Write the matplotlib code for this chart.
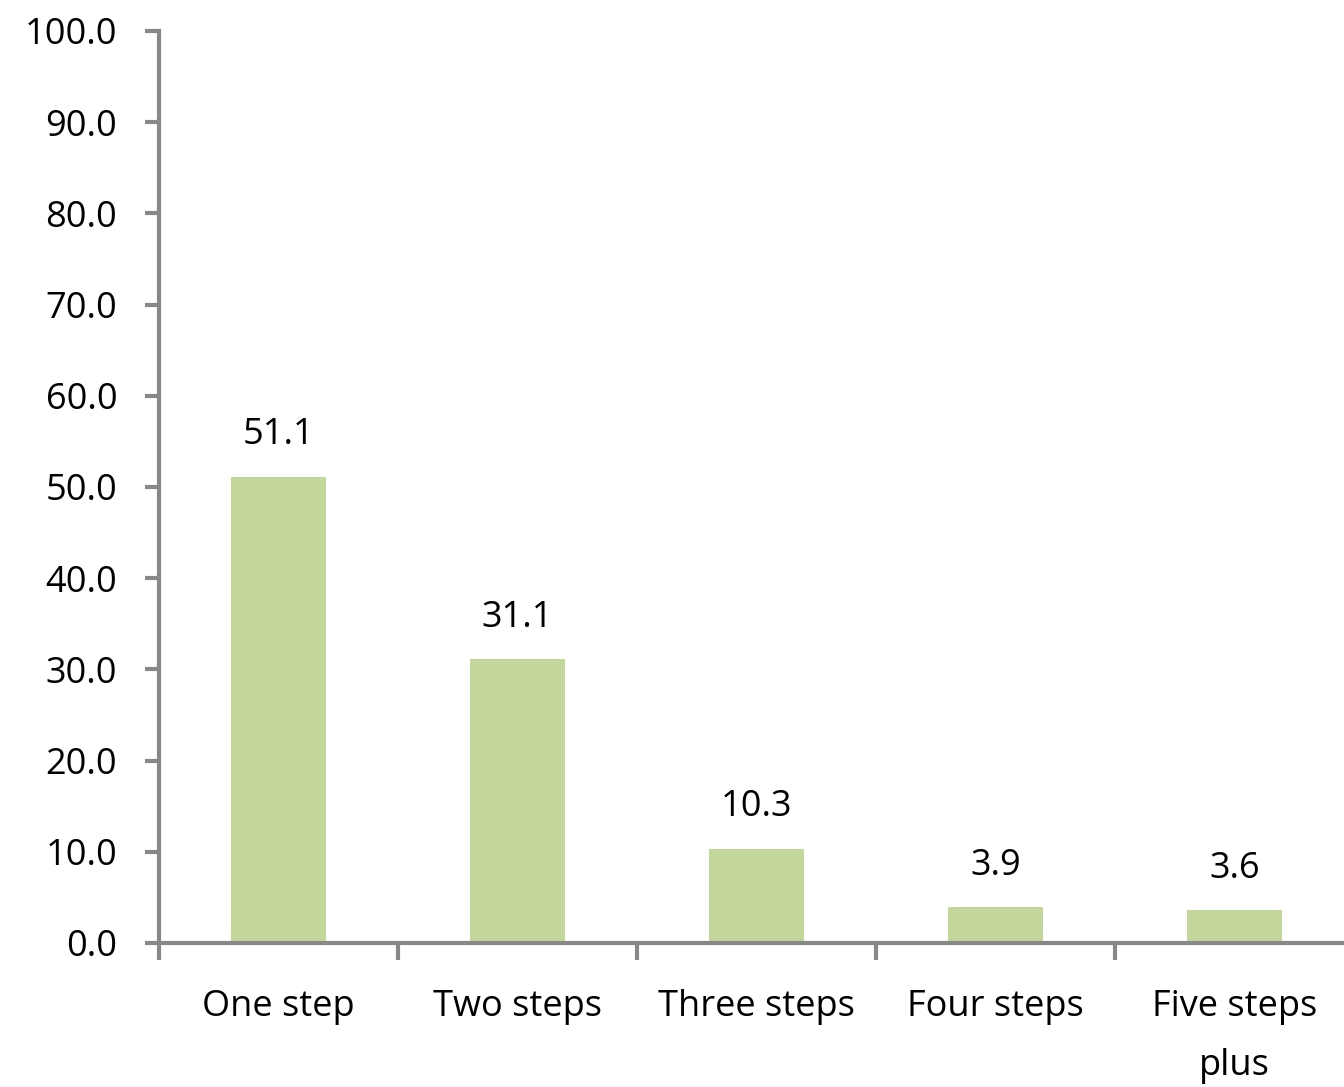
import matplotlib
matplotlib.use("Agg")
import matplotlib.pyplot as plt
import numpy as np

categories = ["One step", "Two steps", "Three steps", "Four steps", "Five steps\nplus"]
values = [51.1, 31.1, 10.3, 3.9, 3.6]
yticks = [0, 10, 20, 30, 40, 50, 60, 70, 80, 90, 100]

plt.rcParams['font.family'] = ['Open Sans', 'DejaVu Sans']

fig = plt.figure(figsize=(13.44, 10.87), dpi=100)
ax = fig.add_axes([159/1344, (1087-943)/1087, (1354-159)/1344, (943-31)/1087])

x = np.arange(len(categories))
ax.bar(x, values, width=0.4, color="#C4D79B", zorder=2)
for xi, v in zip(x, values):
    ax.annotate(f"{v:.1f}", (xi, v), xytext=(0, 17), textcoords="offset points",
                ha="center", va="bottom", fontsize=26, color="#000000")

ax.set_xlim(-0.5, len(categories) - 0.5)
ax.set_ylim(0, 100)
ax.set_yticks(yticks)
ax.set_yticklabels([f"{t:.1f}" for t in yticks], fontsize=26)
ax.set_xticks(np.arange(len(categories) + 1) - 0.5, minor=False)
ax.set_xticklabels([])
ax.set_xticks(x, minor=True)
ax.set_xticklabels(categories, minor=True, fontsize=26, linespacing=1.85)
ax.tick_params(axis="x", which="minor", length=0, pad=33)
ax.tick_params(axis="x", which="major", length=12, width=3, color="#888888", direction="out")
ax.tick_params(axis="y", length=10, width=3, color="#888888", direction="out", pad=20)
for lab in ax.get_yticklabels():
    lab.set_horizontalalignment("right")

for s in ["top", "right"]:
    ax.spines[s].set_visible(False)
for s in ["left", "bottom"]:
    ax.spines[s].set_color("#888888")
    ax.spines[s].set_linewidth(3)

fig.savefig("out.png", dpi=100)
